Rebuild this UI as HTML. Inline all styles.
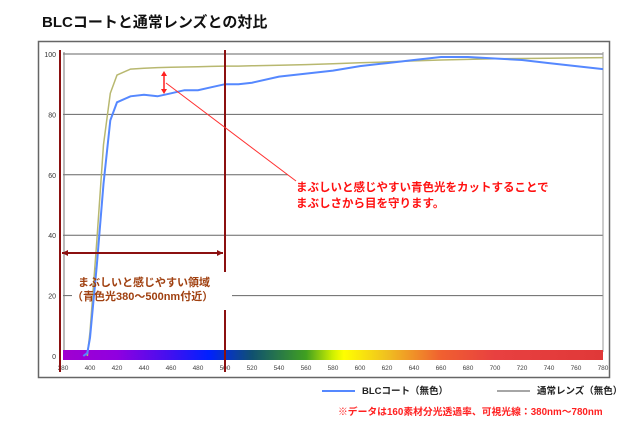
<!DOCTYPE html>
<html><head><meta charset="utf-8"><style>
body{margin:0;background:#fff;width:640px;height:440px;overflow:hidden}
svg{display:block;font-family:"Liberation Sans","Noto Sans CJK JP",sans-serif}
</style></head><body>
<svg id="chart" width="640" height="440" viewBox="0 0 640 440">
<defs>
<linearGradient id="spec" x1="0" x2="1" y1="0" y2="0">
<stop offset="0" stop-color="#a000d0"/><stop offset="0.1" stop-color="#9000e0"/>
<stop offset="0.2" stop-color="#4010f0"/><stop offset="0.27" stop-color="#0020ff"/>
<stop offset="0.35" stop-color="#105070"/><stop offset="0.45" stop-color="#40a020"/>
<stop offset="0.5" stop-color="#d0f000"/><stop offset="0.52" stop-color="#ffff00"/>
<stop offset="0.6" stop-color="#f0c020"/><stop offset="0.7" stop-color="#f06030"/>
<stop offset="0.8" stop-color="#e84040"/><stop offset="1" stop-color="#e03838"/>
</linearGradient>
</defs>
<text x="42" y="27" font-size="15" font-weight="bold" fill="#111">BLCコートと通常レンズとの対比</text>
<rect x="38.5" y="41.5" width="571" height="336" fill="none" stroke="#666" stroke-width="1.5"/>
<g id="grid"></g>
<g id="spectrum"></g>
<g id="series"></g>
<g id="annot"></g>
<g>
<line x1="322" y1="391" x2="355" y2="391" stroke="#5588ff" stroke-width="2"/>
<text x="362" y="394" font-size="9.5" font-weight="bold" fill="#222">BLCコート（無色）</text>
<line x1="497" y1="391" x2="530" y2="391" stroke="#888" stroke-width="1.5"/>
<text x="537" y="394" font-size="9.5" font-weight="bold" fill="#222">通常レンズ（無色）</text>
</g>
<text x="338" y="415" font-size="9.8" font-weight="bold" fill="#ff2020">※データは160素材分光透過率、可視光線：380nm～780nm</text>
</svg>
<script>
const wavelengths=[380,395,398,400,405,410,415,420,430,440,450,460,470,480,490,500,510,520,540,560,580,600,620,640,660,680,700,720,740,760,780];
const blcValues=[null,0,1,6,30,57,78,84,86,86.5,86,87,88,88,89,90,90,90.5,92.5,93.5,94.5,96,97,98,99,99,98.5,98,97,96,95];
const normalValues=[null,null,0,8,38,70,87,93,95,95.3,95.5,95.6,95.7,95.8,95.9,96,96,96.1,96.3,96.5,96.8,97.1,97.4,97.7,98,98.2,98.4,98.5,98.6,98.7,98.8];
const xTicks=[380,400,420,440,460,480,500,520,540,560,580,600,620,640,660,680,700,720,740,760,780];
const yTicks=[0,20,40,60,80,100];
const NS="http://www.w3.org/2000/svg";
const X=v=>63+(v-380)*1.35;
const Y=v=>356-v*3.02;
function mk(tag,attrs,parent,txt){const e=document.createElementNS(NS,tag);for(const k in attrs)e.setAttribute(k,attrs[k]);if(txt!==undefined)e.textContent=txt;parent.appendChild(e);return e;}
const grid=document.getElementById('grid');
yTicks.forEach(t=>{
  const y=Y(t);
  let x2=603;
  if(t===60)x2=288;
  if(t>0){
    if(t===20){
      const a=mk('line',{x1:63,y1:y,x2:72,y2:y,stroke:'#666','stroke-width':1},grid);
      
      
      const b=mk('line',{x1:232,y1:y,x2:603,y2:y,stroke:'#666','stroke-width':1},grid);
      
      
    } else {
      const l=mk('line',{x1:63,y1:y,x2:x2,y2:y,stroke:'#666','stroke-width':1},grid);
      
      
    }
  }
  const tx=mk('text',{x:56,y:y+3,'font-size':7,'text-anchor':'end',fill:'#333'},grid,String(t));
  
  
});
const ax=mk('line',{x1:64,y1:52,x2:64,y2:360,stroke:'#777','stroke-width':1},grid);


const rb=mk('line',{x1:603,y1:52,x2:603,y2:352,stroke:'#999','stroke-width':1},grid);


xTicks.forEach(t=>{
  const tx=mk('text',{x:X(t),y:370,'font-size':6.5,'text-anchor':'middle',fill:'#444'},grid,String(t));
  
  
});
const sp=document.getElementById('spectrum');
const bar=mk('rect',{x:X(380),y:350,width:X(780)-X(380),height:10,fill:'url(#spec)'},sp);


function path(vals){let d='';wavelengths.forEach((w,i)=>{const v=vals[i];if(v===null)return;d+=(d?'L':'M')+X(w).toFixed(1)+' '+Y(v).toFixed(1);});return d;}
const sg=document.getElementById('series');
const pn=mk('path',{d:path(normalValues),fill:'none',stroke:'#b8b870','stroke-width':1.5},sg);


const pb=mk('path',{d:path(blcValues),fill:'none',stroke:'#5588ff','stroke-width':2},sg);


const an=document.getElementById('annot');
const dr='#8b1010';
const v1=mk('line',{x1:60,y1:50,x2:60,y2:372,stroke:dr,'stroke-width':2},an);


const v2a=mk('line',{x1:225,y1:50,x2:225,y2:272,stroke:dr,'stroke-width':2},an);


const v2b=mk('line',{x1:225,y1:310,x2:225,y2:372,stroke:dr,'stroke-width':2},an);


const h=mk('line',{x1:62,y1:253,x2:223,y2:253,stroke:dr,'stroke-width':2},an);


const ah1=mk('path',{d:'M62 253 L68 250 L68 256Z M223 253 L217 250 L217 256Z',fill:dr},an);


const r1=mk('text',{x:78,y:286,'font-size':11,'font-weight':'bold',fill:'#a04010'},an,'まぶしいと感じやすい領域');


const r2=mk('text',{x:72,y:300,'font-size':11,'font-weight':'bold',fill:'#a04010'},an,'（青色光380～500nm付近）');


const va=mk('line',{x1:164,y1:73,x2:164,y2:92,stroke:'#ff2020','stroke-width':1.5},an);


const vh=mk('path',{d:'M164 71 L161 76 L167 76Z M164 94 L161 89 L167 89Z',fill:'#ff2020'},an);


const ln=mk('line',{x1:166,y1:83,x2:296,y2:181,stroke:'#ff3030','stroke-width':1},an);


const c1=mk('text',{x:296,y:191,'font-size':11.5,'font-weight':'bold',fill:'#ff1010'},an,'まぶしいと感じやすい青色光をカットすることで');


const c2=mk('text',{x:296,y:207,'font-size':11.5,'font-weight':'bold',fill:'#ff1010'},an,'まぶしさから目を守ります。');


</script>
</body></html>
